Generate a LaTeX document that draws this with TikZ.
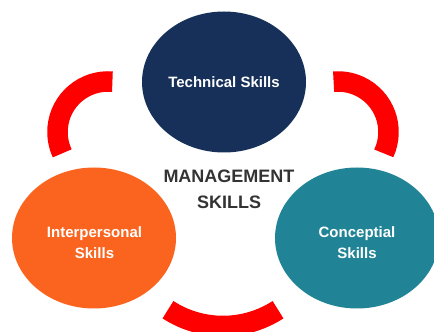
\documentclass[tikz,border=0pt]{standalone}
\usepackage{fontspec}
\setmainfont{Liberation Sans}
\usetikzlibrary{shapes.geometric}
\definecolor{navy}{RGB}{23,48,89}
\definecolor{orng}{RGB}{250,100,30}
\definecolor{teal2}{RGB}{32,132,150}
\definecolor{ringred}{RGB}{255,0,0}
\definecolor{txtgray}{RGB}{51,51,51}
\tikzset{
  skill/.style={ellipse, minimum width=164pt, minimum height=141pt, inner sep=0pt},
  skilltext/.style={text=white, align=center, font=\bfseries\fontsize{15}{21}\selectfont},
  ring/.style={draw=ringred, line width=20.5pt},
  title/.style={text=txtgray, align=center, font=\bfseries\fontsize{18}{26}\selectfont}
}
\begin{document}
\begin{tikzpicture}[x=1pt,y=1pt]
\useasboundingbox (0,0) rectangle (434,332);
\clip (0,0) rectangle (434,332);
\fill[white] (0,0) rectangle (434,332);
% red arcs
\draw[ring] ([shift={(85:50.5)}]108,200) arc[start angle=85, end angle=205, radius=50.5];
\draw[ring] ([shift={(-25:50.5)}]338,200) arc[start angle=-25, end angle=95, radius=50.5];
\draw[ring] ([shift={(237:101)}]223,107) arc[start angle=237, end angle=303, radius=101];
% ellipses
\node[skill, fill=navy] (tech) at (224,250) {};
\node[skilltext] (techtext) at (224,249.5) {Technical Skills};
\node[skill, fill=orng] (inter) at (94,94) {};
\node[skilltext] (intertext) at (94.5,89) {Interpersonal\\Skills};
\node[skill, fill=teal2] (conc) at (357,94) {};
\node[skilltext] (conctext) at (357,89) {Conceptial\\Skills};
\node[title] (mgmt) at (229,142.5) {MANAGEMENT\\SKILLS};
\end{tikzpicture}
\end{document}
